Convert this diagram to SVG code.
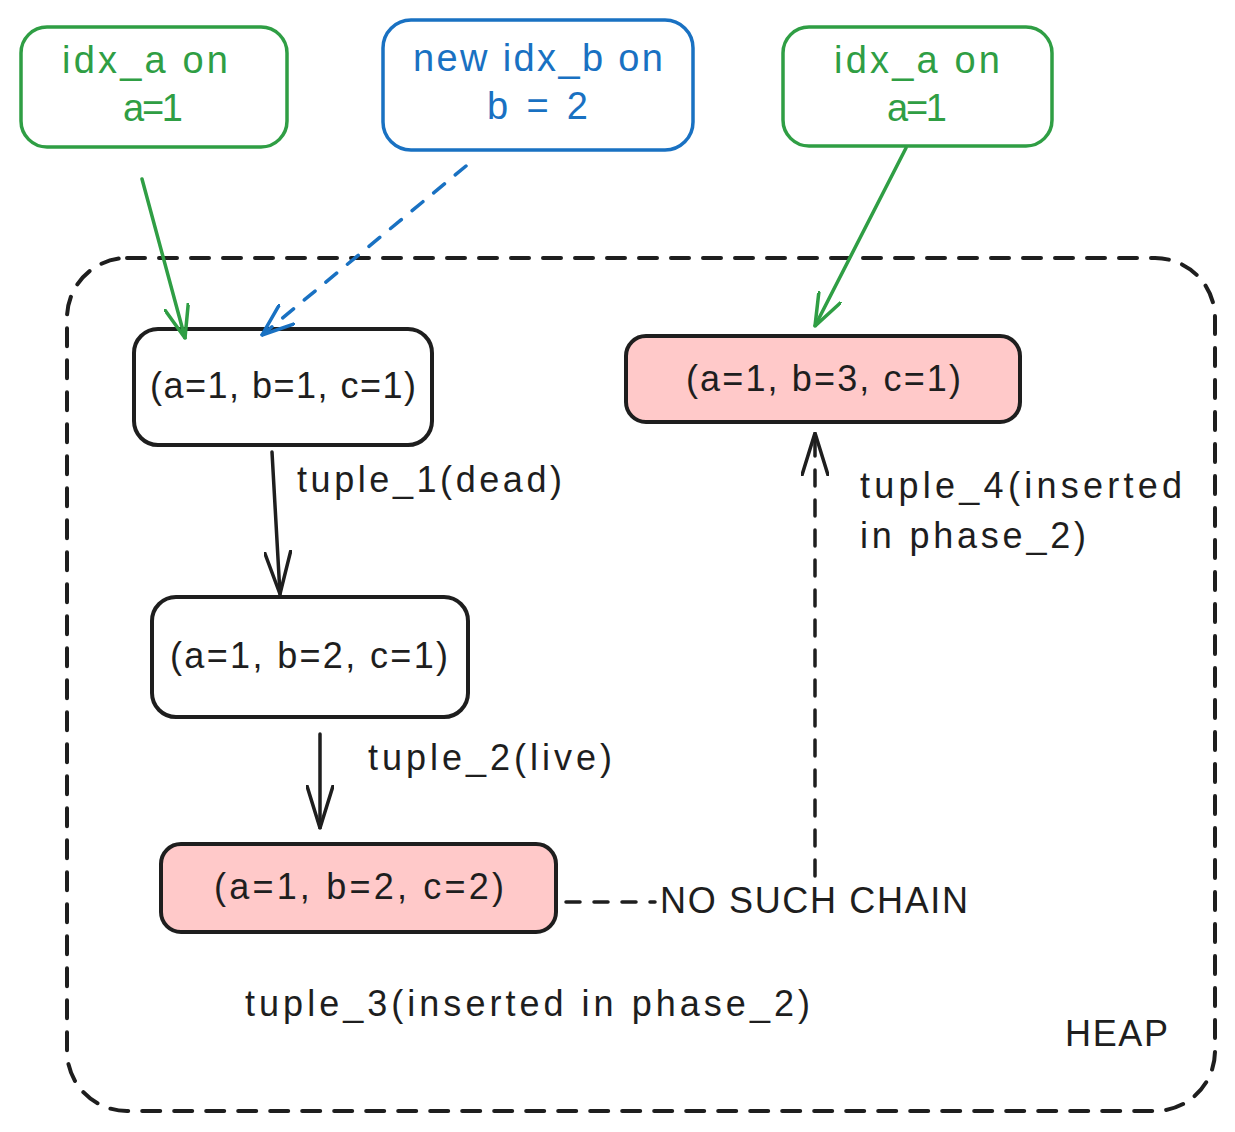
<svg xmlns="http://www.w3.org/2000/svg" width="1235" height="1132" viewBox="0 0 1235 1132">
<defs>
<style>
text{font-family:"Liberation Sans","Noto Sans",sans-serif;font-size:36px;fill:#1e1e1e;}
.g{fill:#2f9e44;font-size:38px;}
.b{fill:#1971c2;font-size:38px;}
.box{stroke-width:3.5;stroke-linejoin:round;}
.node{fill:#ffffff;stroke:#1e1e1e;stroke-width:4;}
.pink{fill:#ffc9c9;stroke:#1e1e1e;stroke-width:4;}
.line{fill:none;stroke-width:3.5;stroke-linecap:round;}
</style>
<marker id="ag" viewBox="0 0 34 26" refX="33" refY="13" markerWidth="34" markerHeight="26" markerUnits="userSpaceOnUse" orient="auto"><path d="M1,1 L33,13 L1,25" fill="none" stroke="#2f9e44" stroke-width="3.5" stroke-linecap="round"/></marker>
<marker id="ab" viewBox="0 0 34 26" refX="33" refY="13" markerWidth="34" markerHeight="26" markerUnits="userSpaceOnUse" orient="auto"><path d="M1,1 L33,13 L1,25" fill="none" stroke="#1971c2" stroke-width="3.5" stroke-linecap="round"/></marker>
<marker id="ak" viewBox="0 0 44 28" refX="43" refY="14" markerWidth="44" markerHeight="28" markerUnits="userSpaceOnUse" orient="auto"><path d="M1,1 L43,14 L1,27" fill="none" stroke="#1e1e1e" stroke-width="3.5" stroke-linecap="round"/></marker>
</defs>
<rect width="1235" height="1132" fill="#ffffff"/>

<g id="heap">
<rect x="67" y="258" width="1148" height="853" rx="60" fill="none" stroke="#1e1e1e" stroke-width="4" stroke-dasharray="18 14" stroke-linecap="round"/>
<text x="1065" y="1046" textLength="103">HEAP</text>
</g>

<g id="idx_a_left">
<rect class="box" x="21" y="27" width="266" height="120" rx="26" fill="none" stroke="#2f9e44"/>
<text class="g" x="62" y="73" textLength="166">idx_a on</text>
<text class="g" x="123" y="121" textLength="60">a=1</text>
</g>

<g id="idx_b">
<rect class="box" x="383" y="20" width="310" height="130" rx="28" fill="none" stroke="#1971c2"/>
<text class="b" x="413" y="71" textLength="250">new idx_b on</text>
<text class="b" x="487" y="119" textLength="101">b = 2</text>
</g>

<g id="idx_a_right">
<rect class="box" x="783" y="27" width="269" height="119" rx="26" fill="none" stroke="#2f9e44"/>
<text class="g" x="834" y="73" textLength="166">idx_a on</text>
<text class="g" x="887" y="121" textLength="60">a=1</text>
</g>

<g id="tuple1">
<rect class="node" x="134" y="329" width="298" height="116" rx="24"/>
<text x="150" y="398" textLength="266">(a=1, b=1, c=1)</text>
</g>

<g id="tuple2">
<rect class="node" x="152" y="597" width="316" height="120" rx="24"/>
<text x="170" y="668" textLength="278">(a=1, b=2, c=1)</text>
</g>

<g id="tuple3">
<rect class="pink" x="161" y="844" width="395" height="88" rx="20"/>
<text x="214" y="899" textLength="290">(a=1, b=2, c=2)</text>
</g>

<g id="tuple4">
<rect class="pink" x="626" y="336" width="394" height="86" rx="20"/>
<text x="686" y="391" textLength="275">(a=1, b=3, c=1)</text>
</g>

<g id="connectors">
<line class="line" x1="142" y1="179" x2="185" y2="338" stroke="#2f9e44" marker-end="url(#ag)"/>
<line class="line" x1="466" y1="166" x2="262" y2="335" stroke="#1971c2" stroke-dasharray="14 14" marker-end="url(#ab)"/>
<line class="line" x1="906" y1="148" x2="815" y2="326" stroke="#2f9e44" marker-end="url(#ag)"/>
<line class="line" x1="272" y1="452" x2="280" y2="594" stroke="#1e1e1e" marker-end="url(#ak)"/>
<line class="line" x1="320" y1="734" x2="320" y2="828" stroke="#1e1e1e" marker-end="url(#ak)"/>
<line class="line" x1="815" y1="876" x2="815" y2="433" stroke="#1e1e1e" stroke-dasharray="16 14" marker-end="url(#ak)"/>
<line class="line" x1="566" y1="902" x2="655" y2="902" stroke="#1e1e1e" stroke-dasharray="14 14"/>
</g>

<g id="labels">
<text x="297" y="492" textLength="265">tuple_1(dead)</text>
<text x="368" y="770" textLength="244">tuple_2(live)</text>
<text x="860" y="498" textLength="322">tuple_4(inserted</text>
<text x="860" y="548" textLength="226">in phase_2)</text>
<text x="245" y="1016" textLength="565">tuple_3(inserted in phase_2)</text>
<text x="660" y="913" textLength="308">NO SUCH CHAIN</text>
</g>
</svg>
